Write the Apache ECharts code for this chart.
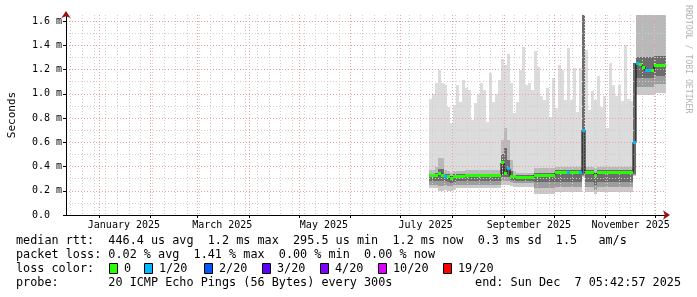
<!DOCTYPE html>
<html><head><meta charset="utf-8">
<script src="https://cdn.jsdelivr.net/npm/echarts@6/dist/echarts.min.js"></script>
<style>html,body{margin:0;padding:0;background:#fff}#c{width:697px;height:297px}</style>
</head><body><div id="c"></div>
<script>
// ---- time frame ----
const END = Date.UTC(2025, 11, 7, 5, 42, 57);
const DAY = 86400000;
const START = END - 360 * DAY;
const STEP_DAYS = 1.8;              // one smoke column
const N_SAMPLES = 79;

// ---- data (ms), one entry per column, from 18 Jul 2025 to 7 Dec 2025 ----
const hi = [
0.96,1.00,1.09,1.20,1.09,1.07,0.89,0.76,0.91,1.07,
0.93,1.11,1.05,1.03,0.78,0.92,1.00,1.09,1.03,0.77,
1.17,0.93,1.00,1.11,1.29,1.24,1.33,1.09,0.84,0.93,
1.20,1.39,1.07,1.09,1.03,1.35,1.22,0.98,0.95,1.05,
0.81,1.13,0.88,1.24,1.20,0.95,1.38,0.95,1.21,0.85,
1.21,1.65,1.36,0.87,1.02,0.95,1.15,0.89,0.98,0.72,
1.25,1.07,0.98,1.07,0.94,1.40,0.96,0.94,1.25,1.65,
1.65,1.65,1.65,1.65,1.65,1.65,1.65,1.65,1.65];
const upperMid = [
0.37,0.37,0.40,0.47,0.47,0.37,0.36,0.35,0.36,0.36,
0.36,0.36,0.37,0.37,0.37,0.37,0.37,0.37,0.37,0.37,
0.37,0.37,0.37,0.37,0.62,0.72,0.62,0.45,0.36,0.35,
0.35,0.35,0.35,0.35,0.35,0.39,0.39,0.39,0.39,0.39,
0.39,0.39,0.40,0.40,0.40,0.40,0.40,0.40,0.40,0.40,
0.40,1.65,0.40,0.40,0.40,0.39,0.40,0.40,0.40,0.40,
0.40,0.40,0.40,0.40,0.40,0.40,0.40,0.40,1.25,1.65,
1.65,1.65,1.65,1.65,1.65,1.65,1.65,1.65,1.65];
const upperDark = [
0.34,0.34,0.35,0.38,0.38,0.34,0.34,0.32,0.34,0.34,
0.34,0.34,0.34,0.34,0.34,0.34,0.34,0.34,0.34,0.34,
0.34,0.34,0.34,0.34,0.50,0.55,0.45,0.36,0.33,0.33,
0.33,0.33,0.33,0.33,0.33,0.35,0.35,0.35,0.35,0.35,
0.35,0.35,0.37,0.37,0.37,0.37,0.37,0.37,0.37,0.37,
0.37,1.65,0.37,0.37,0.37,0.35,0.37,0.37,0.37,0.37,
0.37,0.37,0.37,0.37,0.37,0.37,0.37,0.37,1.25,1.30,
1.30,1.30,1.30,1.30,1.30,1.31,1.31,1.31,1.31];
const median = [
0.33,0.33,0.33,0.34,0.33,0.32,0.32,0.30,0.32,0.32,
0.32,0.32,0.33,0.33,0.33,0.33,0.33,0.33,0.33,0.33,
0.33,0.33,0.33,0.33,0.43,0.34,0.38,0.32,0.32,0.31,
0.31,0.31,0.31,0.31,0.31,0.33,0.33,0.33,0.33,0.33,
0.33,0.33,0.35,0.35,0.35,0.35,0.35,0.35,0.35,0.35,
0.35,0.70,0.35,0.35,0.35,0.33,0.35,0.35,0.35,0.35,
0.35,0.35,0.35,0.35,0.35,0.35,0.35,0.35,0.60,1.25,
1.24,1.22,1.19,1.19,1.19,1.23,1.23,1.23,1.23];
const lowerDark = [
0.28,0.28,0.28,0.28,0.28,0.28,0.27,0.26,0.27,0.28,
0.28,0.28,0.28,0.28,0.28,0.28,0.28,0.28,0.28,0.28,
0.28,0.28,0.28,0.28,0.31,0.31,0.31,0.29,0.28,0.28,
0.28,0.28,0.28,0.28,0.28,0.27,0.27,0.27,0.27,0.27,
0.27,0.27,0.27,0.27,0.27,0.27,0.27,0.27,0.27,0.27,
0.27,0.33,0.27,0.27,0.27,0.25,0.27,0.27,0.27,0.27,
0.27,0.27,0.27,0.27,0.27,0.27,0.27,0.27,0.34,1.13,
1.13,1.13,1.13,1.13,1.13,1.15,1.15,1.15,1.15];
const lowerMid = [
0.25,0.25,0.25,0.24,0.24,0.25,0.24,0.24,0.25,0.25,
0.25,0.25,0.25,0.25,0.25,0.25,0.25,0.25,0.25,0.25,
0.25,0.25,0.25,0.25,0.28,0.28,0.28,0.27,0.26,0.26,
0.26,0.26,0.26,0.26,0.26,0.22,0.22,0.22,0.22,0.22,
0.22,0.22,0.23,0.23,0.23,0.23,0.23,0.23,0.23,0.23,
0.23,0.32,0.23,0.23,0.23,0.21,0.23,0.23,0.23,0.23,
0.23,0.23,0.23,0.23,0.23,0.23,0.23,0.23,0.33,1.06,
1.06,1.06,1.06,1.06,1.06,1.08,1.08,1.08,1.08];
const lo = [
0.22,0.22,0.22,0.20,0.20,0.21,0.20,0.20,0.21,0.22,
0.22,0.22,0.22,0.22,0.22,0.22,0.22,0.22,0.22,0.22,
0.22,0.22,0.22,0.22,0.25,0.25,0.25,0.24,0.23,0.23,
0.23,0.23,0.23,0.23,0.23,0.17,0.17,0.17,0.17,0.17,
0.17,0.17,0.19,0.19,0.19,0.19,0.19,0.19,0.19,0.19,
0.19,0.31,0.19,0.19,0.19,0.17,0.19,0.19,0.19,0.19,
0.19,0.19,0.19,0.19,0.19,0.19,0.19,0.19,0.32,0.99,
0.99,0.99,0.99,0.99,0.99,1.01,1.01,1.01,1.01];
// lost pings out of 20 per column
const loss = [
0,0,0,0,0,1,0,0,0,0,
0,0,0,0,0,0,0,0,0,0,
0,0,0,0,0,0,1,0,0,0,
0,0,0,0,0,0,0,0,0,0,
0,0,0,0,0,0,1,0,0,0,
1,1,0,0,0,0,0,0,0,0,
0,0,0,0,0,0,0,0,1,1,
0,0,1,1,0,0,0,0,0];

// ---- axis texts ----
const xLabels = ['January 2025','March 2025','May 2025','July 2025','September 2025','November 2025'];
const xLabelDates = ['2025-01-16','2025-03-16','2025-05-16','2025-07-16','2025-09-16','2025-11-16'];
const yTicks = [0,0.2,0.4,0.6,0.8,1.0,1.2,1.4,1.6];
const yMinorTicks = [0.1,0.3,0.5,0.7,0.9,1.1,1.3,1.5];

// ---- legend texts ----
const lossLevels = ['0','1/20','2/20','3/20','4/20','10/20','19/20'];
const lossColors = ['#26ff00','#00b8ff','#0059ff','#5e00ff','#7e00ff','#dd00ff','#ff0000'];
const legendLines = [
  'median rtt:  446.4 us avg  1.2 ms max  295.5 us min  1.2 ms now  0.3 ms sd  1.5   am/s',
  'packet loss: 0.02 % avg  1.41 % max  0.00 % min  0.00 % now',
  'loss color:',
  'probe:       20 ICMP Echo Pings (56 Bytes) every 300s'
];
const endText = 'end: Sun Dec  7 05:42:57 2025';

// ---- build ----
const STEP = STEP_DAYS * DAY;
const FIRST = END - N_SAMPLES * STEP;
const times = hi.map((_, i) => FIRST + i * STEP);
const xLabelTimes = xLabelDates.map(d => Date.parse(d + 'T00:00:00Z'));
const monthStarts = []; for (let m = 0; m < 12; m++) monthStarts.push(Date.UTC(2025, m, 1));
const weekStarts = []; for (let t = Date.UTC(2024, 11, 15); t <= END; t += 7 * DAY) weekStarts.push(t);

const MONO = '"DejaVu Sans Mono", monospace';
const bandColors = ['#c9c9c9', '#9d9d9d', '#6c6c6c', '#b9b9b9', '#dcdcdc'];

function lossColor(n) {
  if (n <= 0) return lossColors[0];
  if (n === 1) return lossColors[1];
  if (n === 2) return lossColors[2];
  if (n === 3) return lossColors[3];
  if (n < 10) return lossColors[4];
  if (n < 19) return lossColors[5];
  return lossColors[6];
}

const smokeData = times.map((t, i) => [t, lo[i], lowerMid[i], lowerDark[i], upperDark[i], upperMid[i], hi[i]]);
const medData = times.map((t, i) => [t, median[i], loss[i]]);

function renderSmoke(params, api) {
  const t = api.value(0);
  const xa = Math.round(api.coord([t, 0])[0]);
  const xb = Math.round(api.coord([t + STEP, 0])[0]);
  const kids = [];
  for (let k = 0; k < 5; k++) {
    const v0 = api.value(k + 1), v1 = api.value(k + 2);
    if (!(v1 > v0)) continue;
    const ya = Math.round(api.coord([t, v0])[1]);
    const yb = Math.round(api.coord([t, v1])[1]);
    if (ya <= yb) continue;
    kids.push({ type: 'rect', shape: { x: xa, y: yb, width: xb - xa, height: ya - yb }, style: { fill: bandColors[k] } });
  }
  return { type: 'group', children: kids };
}
function renderMedian(params, api) {
  const t = api.value(0);
  const xa = Math.round(api.coord([t, 0])[0]);
  const xb = Math.round(api.coord([t + STEP, 0])[0]);
  const y = api.coord([t, api.value(1)])[1];
  return { type: 'rect', shape: { x: xa, y: Math.round(y - 1.5), width: xb - xa, height: 3 }, style: { fill: lossColor(api.value(2)) } };
}

const graphics = [];
const LEG_Y = [241, 255, 269, 283];
legendLines.forEach((s, i) => graphics.push({ type: 'text', x: 16, y: LEG_Y[i], silent: true,
  style: { text: s, font: '11.8px ' + MONO, fill: '#000', verticalAlign: 'middle', textVerticalAlign: 'middle' } }));
graphics.push({ type: 'text', x: 681, y: LEG_Y[3], silent: true,
  style: { text: endText, font: '11.8px ' + MONO, fill: '#000', align: 'right', textAlign: 'right', verticalAlign: 'middle', textVerticalAlign: 'middle' } });
const lossBoxX = [109, 144, 204, 262, 320, 378, 443];
lossLevels.forEach((lab, k) => {
  graphics.push({ type: 'rect', silent: true, shape: { x: lossBoxX[k] + 0.5, y: 263.5, width: 8, height: 10 },
    style: { fill: lossColors[k], stroke: '#000', lineWidth: 1 } });
  graphics.push({ type: 'text', x: lossBoxX[k] + 15, y: LEG_Y[2], silent: true,
    style: { text: lab, font: '11.8px ' + MONO, fill: '#000', verticalAlign: 'middle', textVerticalAlign: 'middle' } });
});
graphics.push({ type: 'text', x: 688, y: 5, rotation: -Math.PI / 2, silent: true,
  style: { text: 'RRDTOOL / TOBI OETIKER', font: '8.2px ' + MONO, fill: '#b4b4b4', verticalAlign: 'middle', textVerticalAlign: 'middle' } });

const hiddenAxisParts = { axisLabel: { show: false }, axisLine: { show: false } };

const option = {
  animation: false,
  backgroundColor: '#fff',
  grid: { left: 66, right: 31, top: 15, bottom: 82, containLabel: false, outerBoundsMode: 'none' },
  xAxis: [
    { // weekly minor grid
      type: 'value', position: 'bottom', min: START, max: END, z: 1, ...hiddenAxisParts,
      axisTick: { show: false, customValues: weekStarts },
      splitLine: { show: true, customValues: weekStarts, lineStyle: { color: '#cfcfcf', type: [1, 2], width: 1 } }
    },
    { // monthly major grid + labels
      type: 'value', position: 'bottom', min: START, max: END, z: 2,
      axisLine: { show: true, onZero: false, lineStyle: { color: '#000', width: 1 } },
      axisTick: { show: true, customValues: monthStarts, length: 3, lineStyle: { color: '#000' } },
      splitLine: { show: true, customValues: monthStarts, lineStyle: { color: '#eaa0a0', type: [1, 2], width: 1 } },
      axisLabel: { show: true, customValues: xLabelTimes, margin: 5, fontFamily: MONO, fontSize: 10, color: '#000',
        hideOverlap: false, showMinLabel: true, showMaxLabel: true,
        formatter: v => { for (let k = 0; k < xLabelTimes.length; k++) if (Math.abs(xLabelTimes[k] - v) < DAY) return xLabels[k]; return ''; } }
    },
    { // arrow
      type: 'value', position: 'bottom', min: START, max: END, z: 3,
      axisLine: { show: true, onZero: false, symbol: ['none', 'arrow'], symbolSize: [7, 7], symbolOffset: [0, 4],
        lineStyle: { color: '#a01010', width: 0 } },
      axisTick: { show: false }, axisLabel: { show: false }, splitLine: { show: false }
    }
  ],
  yAxis: [
    { // minor grid
      type: 'value', position: 'left', min: 0, max: 1.65, z: 1, ...hiddenAxisParts,
      axisTick: { show: false, customValues: yMinorTicks },
      splitLine: { show: true, customValues: yMinorTicks, lineStyle: { color: '#cfcfcf', type: [1, 2], width: 1 } }
    },
    { // major grid + labels
      type: 'value', position: 'left', min: 0, max: 1.65, z: 2,
      name: 'Seconds', nameLocation: 'middle', nameGap: 48,
      nameTextStyle: { fontFamily: MONO, fontSize: 11, color: '#000' },
      axisLine: { show: true, onZero: false, lineStyle: { color: '#000', width: 1 } },
      axisTick: { show: true, customValues: yTicks, length: 3, lineStyle: { color: '#000' } },
      splitLine: { show: true, customValues: yTicks, lineStyle: { color: '#eaa0a0', type: [1, 2], width: 1 } },
      axisLabel: { show: true, customValues: yTicks, margin: 4, fontFamily: MONO, fontSize: 10, color: '#000',
        formatter: v => v === 0 ? '0.0  ' : v.toFixed(1) + ' m' }
    },
    { // arrow
      type: 'value', position: 'left', min: 0, max: 1.65, z: 3,
      axisLine: { show: true, onZero: false, symbol: ['none', 'arrow'], symbolSize: [7, 7], symbolOffset: [0, 4],
        lineStyle: { color: '#a01010', width: 0 } },
      axisTick: { show: false }, axisLabel: { show: false }, splitLine: { show: false }
    }
  ],
  series: [
    { type: 'custom', name: 'smoke', xAxisIndex: 1, yAxisIndex: 1, z: 0, clip: true, silent: true,
      renderItem: renderSmoke, data: smokeData },
    { type: 'line', name: 'median', xAxisIndex: 1, yAxisIndex: 1, z: 4, step: 'end', showSymbol: false, symbol: 'none',
      lineStyle: { color: '#000', width: 1 }, data: times.map((t, i) => [t, median[i]]), silent: true },
    { type: 'custom', name: 'loss', xAxisIndex: 1, yAxisIndex: 1, z: 5, clip: true, silent: true,
      renderItem: renderMedian, data: medData }
  ],
  graphic: graphics
};

const chart = echarts.init(document.getElementById('c'), null, { renderer: 'canvas', width: 697, height: 297 });
chart.setOption(option);
</script>
</body></html>
